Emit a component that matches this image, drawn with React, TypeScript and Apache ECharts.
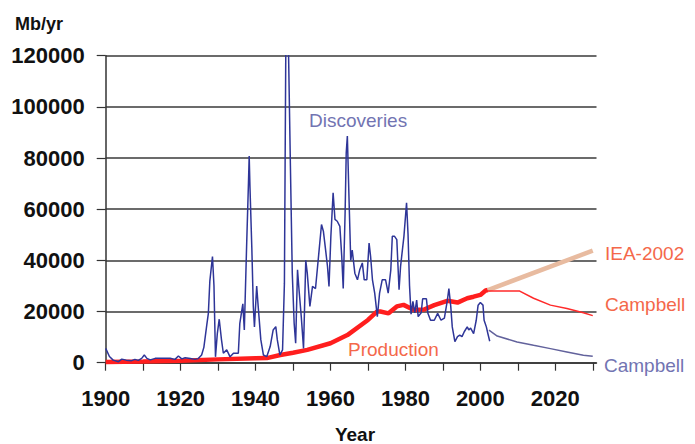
import React, { useEffect, useRef } from "react";
import * as echarts from "echarts";

// Discoveries (Mb/yr)
const discYears = [
  1900, 1901, 1902, 1903.4, 1904.3, 1905.5, 1906.9, 1907.8, 1908.7, 1909.6, 1910.3, 1911, 1911.9, 1913.2,
  1916.3, 1917.2, 1918.5, 1919.4, 1920.3, 1921.2, 1922.6, 1923.8, 1924.7, 1925.6, 1926.2, 1927, 1927.4,
  1927.8, 1928.5, 1928.9, 1929.3, 1929.8, 1930.3, 1930.9, 1931.4, 1932.3, 1933.2, 1934.1, 1935.4, 1935.8,
  1936.6, 1937.0, 1937.6, 1938.1, 1938.3, 1938.5, 1939.0, 1939.4, 1939.7, 1940.3, 1940.7, 1941.4, 1942.1,
  1943.0, 1943.9, 1944.7, 1945.4, 1945.8, 1946.5, 1947.2, 1947.7, 1948.1, 1948.7, 1949.3, 1949.8, 1950.3,
  1950.7, 1951.2, 1951.6, 1952.2, 1952.8, 1953.4, 1953.8, 1954.5, 1955.2, 1956, 1956.9, 1957.6, 1958.1,
  1958.7, 1959.2, 1959.6, 1960.1, 1960.7, 1961.2, 1961.8, 1962.5, 1963.0, 1963.4, 1963.9, 1964.2, 1964.5,
  1964.9, 1965.4, 1965.8, 1966.5, 1967.2, 1967.8, 1968.5, 1969.0, 1969.7, 1970.3, 1970.7, 1971.2, 1971.8,
  1972.5, 1973.1, 1973.8, 1974.7, 1975.4, 1976.1, 1976.5, 1977.1, 1977.7, 1978.3, 1978.7, 1979.6, 1980.3,
  1980.7, 1981.1, 1981.5, 1982, 1982.5, 1983, 1983.4, 1984.2, 1984.6, 1985.6, 1986, 1986.7, 1987.7, 1988.6,
  1989.5, 1990.4, 1991.2, 1991.6, 1992.1, 1992.5, 1993.2, 1993.9, 1994.5, 1995.1, 1995.7, 1996.5, 1996.9,
  1997.4, 1998.2, 1998.9, 1999.4, 2000, 2000.7, 2001, 2001.6, 2002, 2002.5,
];
const discValues = [
  5600, 2400, 1000, 400, 1400, 1000, 800, 1300, 900, 1700, 3000, 1700, 1100, 1700,
  1700, 1700, 1300, 2600, 1500, 1900, 1600, 1300, 1600, 3000, 6000, 15000, 19300,
  32000, 41500, 30000, 2300, 11500, 17000, 9000, 3700, 5000, 2300, 3700, 3700, 15400,
  23000, 12800, 45000, 70000, 80800, 69000, 45000, 22000, 14000, 30000, 22000, 9000, 3000,
  2400, 6300, 12800, 14100, 9000, 3000, 5000, 31000, 130000, 130000, 77000, 35000, 15400,
  7600, 36300, 28500, 18000, 5600, 40000, 35000, 22000, 29800, 29000, 43000, 54000, 51400,
  44000, 37600, 29800, 49400, 66400, 56000, 55300, 53300, 41600, 29000, 58600, 82000, 88600,
  66400, 40000, 44000, 35000, 32400, 36300, 39000, 32400, 32400, 46800, 41600, 32400, 27200,
  18000, 27200, 32400, 32400, 27200, 36300, 49400, 49400, 48100, 28500, 37600, 49400, 62500,
  50000, 30000, 19000, 24000, 19500, 24500, 18000, 19500, 25000, 25000, 19300, 16600, 16600, 19300,
  16600, 17400, 24500, 29000, 22000, 14000, 8200, 10200, 10800, 10200, 12100, 14000, 12800,
  13500, 11400, 16600, 22500, 23500, 22500, 16600, 14000, 11400, 8400,
];

// Production (Mb/yr)
const prodYears = [1900, 1910, 1920, 1930, 1940, 1943, 1946.6, 1950, 1953.8, 1960, 1964.5, 1970, 1972.4, 1973.3,
  1975.5, 1977.7, 1979.5, 1982.3, 1985, 1987.7, 1991.2, 1993.9, 1996.5, 1998.2, 2000, 2001.4, 2002];
const prodValues = [300, 500, 800, 1300, 1700, 1800, 3000, 3900, 5000, 7600, 10800, 16700, 20000, 20000,
  19300, 22000, 22600, 20600, 20800, 22500, 24200, 23500, 25200, 25800, 26500, 28200, 28400];

// IEA-2002 production forecast
const ieaYears = [2002, 2030];
const ieaValues = [28400, 43800];

// Campbell production forecast
const campProdYears = [2002, 2010.5, 2014.2, 2018.7, 2023.1, 2027.5, 2030];
const campProdValues = [28000, 28000, 25200, 22500, 21200, 19500, 18400];

// Campbell discoveries forecast
const campDiscYears = [2002.3, 2004.5, 2009.8, 2014.2, 2018.7, 2023.1, 2027.5, 2030];
const campDiscValues = [12700, 10400, 8100, 6800, 5500, 4200, 2900, 2500];

const xTicks = [1900, 1910, 1920, 1930, 1940, 1950, 1960, 1970, 1980, 1990, 2000, 2010, 2020, 2030];
const xLabels = [1900, 1920, 1940, 1960, 1980, 2000, 2020];

const pairs = (xs: number[], ys: number[]) => xs.map((x, i) => [x, ys[i]]);

const FONT = "Liberation Sans, Arial, sans-serif";
const CORAL = "#F4684A";
const LAVENDER = "#7274B2";

export default function App() {
  const ref = useRef<HTMLDivElement>(null);
  useEffect(() => {
    if (!ref.current) return;
    const chart = echarts.init(ref.current, null, { renderer: "svg" });
    const text = (t: string, x: number, y: number, color: string, size: number, weight = "normal", align = "left") => ({
      type: "text",
      x,
      y,
      style: {
        text: t,
        fill: color,
        fontSize: size,
        fontFamily: FONT,
        fontWeight: weight,
        textAlign: align,
        textVerticalAlign: "middle",
      },
    });
    chart.setOption({
      animation: false,
      backgroundColor: "#ffffff",
      grid: { left: 105.7, top: 55.7, right: 98.5, bottom: 81.3, containLabel: false },
      xAxis: {
        type: "value",
        min: 1900,
        max: 2031,
        splitLine: { show: false },
        axisLine: { show: true, lineStyle: { color: "#333", width: 1.5 } },
        axisTick: { show: true, length: 8, customValues: xTicks, lineStyle: { color: "#333", width: 1.2 } },
        axisLabel: {
          customValues: xLabels,
          formatter: (v: number) => String(v),
          margin: 25,
          color: "#111",
          fontSize: 22,
          fontWeight: "bold",
          fontFamily: FONT,
        },
      },
      yAxis: {
        type: "value",
        min: 0,
        max: 120000,
        interval: 20000,
        axisLine: { show: true, lineStyle: { color: "#333", width: 1.5 } },
        axisTick: { show: true, length: 9, lineStyle: { color: "#333", width: 1.2 } },
        splitLine: { show: true, lineStyle: { color: "#3a3a3a", width: 1.5 } },
        axisLabel: {
          formatter: (v: number) => String(v),
          margin: 21,
          color: "#111",
          fontSize: 22,
          fontWeight: "bold",
          fontFamily: FONT,
        },
      },
      series: [
        {
          name: "Production",
          type: "line",
          data: pairs(prodYears, prodValues),
          showSymbol: false,
          lineStyle: { color: "#FF1E1E", width: 4.5 },
          z: 2,
        },
        {
          name: "IEA-2002",
          type: "line",
          data: pairs(ieaYears, ieaValues),
          showSymbol: false,
          lineStyle: { color: "#E8BBA0", width: 4.5 },
          z: 2,
        },
        {
          name: "Campbell production",
          type: "line",
          data: pairs(campProdYears, campProdValues),
          showSymbol: false,
          lineStyle: { color: "#FF2A2A", width: 1.5 },
          z: 2,
        },
        {
          name: "Discoveries",
          type: "line",
          data: pairs(discYears, discValues),
          showSymbol: false,
          clip: true,
          lineStyle: { color: "#2E3598", width: 1.5 },
          z: 3,
        },
        {
          name: "Campbell discoveries",
          type: "line",
          data: pairs(campDiscYears, campDiscValues),
          showSymbol: false,
          lineStyle: { color: "#62629C", width: 1.5 },
          z: 3,
        },
      ],
      graphic: [
        text("Mb/yr", 15, 23.5, "#111", 18, "bold"),
        text("Year", 355, 434, "#111", 19, "bold", "center"),
        text("Discoveries", 309, 120, LAVENDER, 19),
        text("Production", 348, 349, CORAL, 19),
        text("IEA-2002", 605, 253, CORAL, 19),
        text("Campbell", 605, 304, CORAL, 19),
        text("Campbell", 604, 365, LAVENDER, 19),
      ],
    });
    return () => chart.dispose();
  }, []);
  return <div ref={ref} style={{ position: "fixed", left: 0, top: 0, width: 695, height: 444 }} />;
}
